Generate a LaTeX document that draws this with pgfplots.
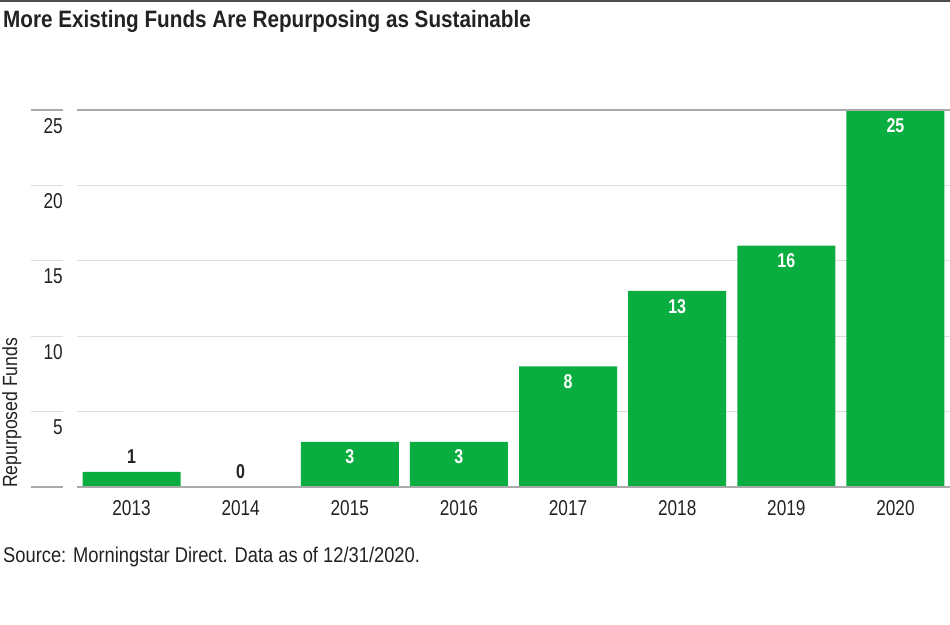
\documentclass[border=0pt]{standalone}
\usepackage{pgfplots}
\pgfplotsset{compat=1.18}
\usepackage{fontspec}
\setmainfont{Liberation Sans}[FakeStretch=0.86]
\newfontfamily\narrowfont{Liberation Sans}[FakeStretch=0.8]
\newfontfamily\titlefont{Liberation Sans}[FakeStretch=0.873]

\definecolor{msgreen}{RGB}{0,170,56}
\definecolor{gridgray}{RGB}{221,221,221}
\definecolor{axgray}{RGB}{170,170,170}
\definecolor{txt}{RGB}{34,34,34}

\begin{document}
\begin{tikzpicture}
\useasboundingbox (0pt,0pt) rectangle (950pt,624pt);
\draw[line width=2pt, black!70] (0pt,623pt) -- (950pt,623pt);
\node[anchor=base west, inner sep=0pt, text=txt, font=\titlefont\fontsize{23.7}{28}\selectfont\bfseries]
  at (3pt,596pt) {More Existing Funds Are Repurposing as Sustainable};
\node[anchor=base west, inner sep=0pt, text=txt, font=\fontsize{21.3}{25}\selectfont]
  at (3pt,62pt) {Source: Morningstar Direct. Data as of 12/31/2020.};
\node[rotate=90, anchor=base west, inner sep=0pt, text=txt, font=\fontsize{20.5}{24}\selectfont]
  at (17pt,136pt) {Repurposed Funds};

\begin{axis}[
    at={(77pt,137pt)}, anchor=south west,
    scale only axis, width=873pt, height=377pt,
    xmin=-0.5, xmax=7.5, ymin=0, ymax=25,
    ybar, bar width=98pt, bar shift=0pt,
    axis line style={draw=none}, tick style={draw=none},
    xtick={0,...,7},
    xticklabels={2013,2014,2015,2016,2017,2018,2019,2020},
    ytick={5,10,...,25},
    ymajorgrids, grid style={gridgray, line width=1pt},
    ticklabel style={font=\narrowfont\fontsize{21.5}{25}\selectfont, text=txt, inner sep=0pt},
    xticklabel style={anchor=north, yshift=-9pt},
    yticklabel style={anchor=north east, xshift=-14pt, yshift=-8pt},
    /pgf/number format/assume math mode=true,
    clip=false,
]
% small bars, label above
\addplot[fill=msgreen, draw=none, fill opacity=0.96,
    nodes near coords,
    nodes near coords style={anchor=south, yshift=8pt, inner sep=0pt, text opacity=1,
        text=txt, font=\narrowfont\fontsize{20}{24}\selectfont\bfseries}]
    coordinates {(0,1) (1,0)};
% larger bars, label inside
\addplot[fill=msgreen, draw=none, fill opacity=0.96,
    nodes near coords,
    nodes near coords style={anchor=north, yshift=-8pt, inner sep=0pt, text opacity=1,
        text=white, font=\narrowfont\fontsize{20}{24}\selectfont\bfseries}]
    coordinates {(2,3) (3,3) (4,8) (5,13) (6,16) (7,25)};

\draw[axgray, line width=1.5pt] (axis cs:-0.5,0) -- (axis cs:7.5,0);
\draw[axgray, line width=1.5pt] (axis cs:-0.5,25) -- (axis cs:7.5,25);
\draw[axgray, line width=1.5pt] ([xshift=-46pt]axis cs:-0.5,0) -- ([xshift=-14pt]axis cs:-0.5,0);
\draw[axgray, line width=1.5pt] ([xshift=-46pt]axis cs:-0.5,25) -- ([xshift=-14pt]axis cs:-0.5,25);
\pgfplotsinvokeforeach{5,10,15,20}{
  \draw[gridgray, line width=1pt] ([xshift=-46pt]axis cs:-0.5,#1) -- ([xshift=-14pt]axis cs:-0.5,#1);
}
\end{axis}
\end{tikzpicture}
\end{document}
